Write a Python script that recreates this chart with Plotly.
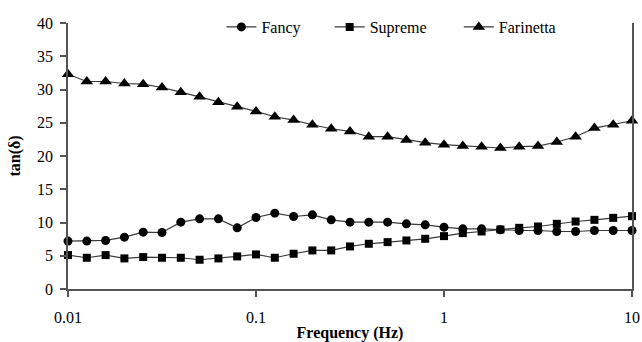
import plotly.graph_objects as go

freq = [0.01, 0.01259, 0.01585, 0.01995, 0.02512, 0.03162, 0.03981, 0.05012, 0.0631, 0.07943,
        0.1, 0.1259, 0.1585, 0.1995, 0.2512, 0.3162, 0.3981, 0.5012, 0.631, 0.7943,
        1.0, 1.259, 1.585, 1.995, 2.512, 3.162, 3.981, 5.012, 6.31, 7.943, 10.0]

fancy = [7.2, 7.2, 7.3, 7.8, 8.55, 8.5, 10.05, 10.55, 10.55, 9.2,
         10.75, 11.4, 10.9, 11.15, 10.4, 10.05, 10.05, 10.05, 9.8, 9.65,
         9.3, 9.05, 9.05, 8.9, 8.8, 8.8, 8.65, 8.65, 8.8, 8.8, 8.8]

supreme = [5.1, 4.7, 5.1, 4.6, 4.8, 4.7, 4.7, 4.4, 4.6, 4.9,
           5.2, 4.7, 5.3, 5.8, 5.8, 6.4, 6.8, 7.05, 7.3, 7.55,
           7.95, 8.4, 8.65, 8.95, 9.2, 9.4, 9.8, 10.15, 10.4, 10.7, 10.95]

farinetta = [32.3, 31.2, 31.2, 30.9, 30.8, 30.3, 29.6, 28.9, 28.1, 27.4,
             26.7, 25.9, 25.4, 24.7, 24.1, 23.7, 22.9, 22.9, 22.4, 22.0,
             21.7, 21.5, 21.4, 21.2, 21.4, 21.5, 22.1, 22.9, 24.2, 24.7, 25.3]

x_tickvals = [0.01, 0.1, 1, 10]
x_ticktext = ["0.01", "0.1", "1", "10"]
y_tickvals = [0, 5, 10, 15, 20, 25, 30, 35, 40]

FONT = "Liberation Serif"
LINE = "#3a3a3a"
AX = "#555555"

fig = go.Figure()
series = [
    ("Fancy", fancy, "circle", 9, "legend"),
    ("Supreme", supreme, "square", 8, "legend2"),
    ("Farinetta", farinetta, "triangle-up", 11, "legend3"),
]
for name, vals, sym, size, lg in series:
    fig.add_trace(go.Scatter(
        x=freq, y=vals, name=name, mode="lines+markers",
        line=dict(color=LINE, width=1.2),
        marker=dict(symbol=sym, size=size, color="black"),
        cliponaxis=False, legend=lg, showlegend=True,
    ))

legend_common = dict(font=dict(family=FONT, size=16, color="black"),
                     bgcolor="rgba(0,0,0,0)", orientation="h",
                     yanchor="middle", xanchor="left", y=0.985)

fig.update_layout(
    width=642, height=342, showlegend=True,
    margin=dict(l=68, r=10, t=21, b=53),
    paper_bgcolor="white", plot_bgcolor="white",
    font=dict(family=FONT, size=16, color="black"),
    legend=dict(**legend_common, x=0.272),
    legend2=dict(**legend_common, x=0.464),
    legend3=dict(**legend_common, x=0.693),
    xaxis=dict(
        type="log", range=[-2, 1], automargin=False,
        tickvals=x_tickvals, ticktext=x_ticktext,
        tickfont=dict(family=FONT, size=16),
        showgrid=False, zeroline=False,
        showline=True, linecolor=AX, linewidth=1.5,
        ticks="outside", ticklen=6, tickwidth=1.5, tickcolor=AX,
        ticklabelstandoff=7,
        title=dict(text="<b>Frequency (Hz)</b>", font=dict(family=FONT, size=16), standoff=2),
    ),
    yaxis=dict(
        range=[0, 40], tickvals=y_tickvals, automargin=False,
        tickfont=dict(family=FONT, size=16),
        showgrid=False, zeroline=False,
        showline=True, linecolor=AX, linewidth=1.5, mirror=True,
        ticks="outside", ticklen=6, tickwidth=1.5, tickcolor=AX,
        ticklabelstandoff=4,
        title=dict(text="<b>tan(δ)</b>", font=dict(family=FONT, size=16), standoff=12),
    ),
)

fig.write_html("out.html")
